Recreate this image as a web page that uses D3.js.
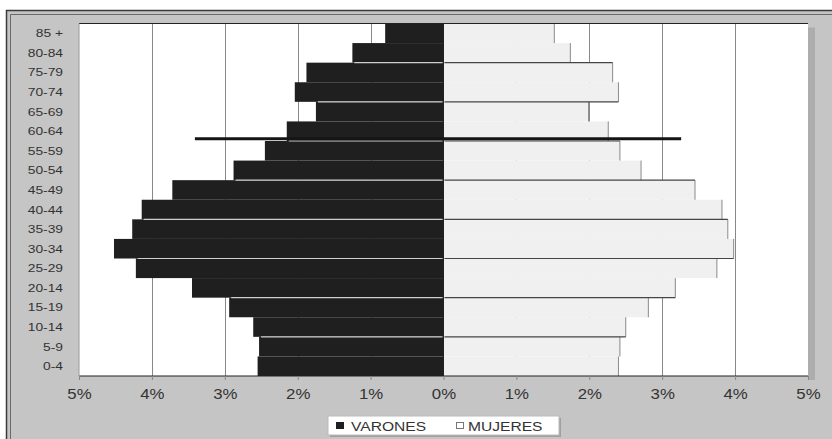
<!DOCTYPE html>
<html><head><meta charset="utf-8">
<script src="https://cdn.jsdelivr.net/npm/d3@7"></script>
<style>body{margin:0;background:#fff}svg{display:block}</style>
</head><body>
<svg id="c" width="832" height="439"></svg>
<script>
const categories = ["0-4","5-9","10-14","15-19","20-14","25-29","30-34","35-39","40-44","45-49","50-54","55-59","60-64","65-69","70-74","75-79","80-84","85 +"];
const varones = [2.55,2.53,2.61,2.94,3.45,4.22,4.52,4.27,4.14,3.72,2.88,2.45,2.15,1.75,2.04,1.88,1.25,0.80];
const mujeres = [2.40,2.42,2.50,2.81,3.18,3.75,3.98,3.90,3.82,3.45,2.71,2.42,2.26,1.99,2.40,2.32,1.74,1.52];
const xTicks = [-5,-4,-3,-2,-1,0,1,2,3,4,5];
const refLine = {category:"60-64", from:-3.41, to:3.26};
const legendLabels = ["VARONES","MUJERES"];

const svg = d3.select("#c");
const font = "'Liberation Sans', Arial, sans-serif";
const L = 79, R = 808, T = 23.5, B = 376;
const x = d3.scaleLinear().domain([-5,5]).range([L,R]);
const y = d3.scaleBand().domain(categories.slice().reverse()).range([T,B]).padding(0);

// frame
svg.append("rect").attr("x",6).attr("y",10).attr("width",826).attr("height",429).attr("fill","#c5c5c5");
svg.append("path").attr("d","M6.5,439 V10.5 H832").attr("fill","none").attr("stroke","#3a3a3a").attr("stroke-width",1.5);
svg.append("path").attr("d","M10.5,439 V14.5 H832").attr("fill","none").attr("stroke","#6a6a6a").attr("stroke-width",1);
// plot shadow
svg.append("rect").attr("x",R).attr("y",T+4).attr("width",7).attr("height",B-T).attr("fill","#adadad");
// plot area
svg.append("rect").attr("x",L).attr("y",T).attr("width",R-L).attr("height",B-T).attr("fill","#fff");

// gridlines
svg.append("g").selectAll("line").data(xTicks.filter(t=>t!==0 && Math.abs(t)!==5)).join("line")
  .attr("x1",d=>Math.round(x(d))+0.5).attr("x2",d=>Math.round(x(d))+0.5)
  .attr("y1",T).attr("y2",B).attr("stroke","#888").attr("stroke-width",1);

const rows = categories.map((c,i)=>({c, m:varones[i], f:mujeres[i], i}));
// bars
svg.append("g").selectAll("rect").data(rows).join("rect")
  .attr("x",d=>x(-d.m)).attr("y",d=>y(d.c)).attr("width",d=>x(0)-x(-d.m)).attr("height",y.bandwidth())
  .attr("fill","#1f1f1f");
svg.append("g").selectAll("rect").data(rows).join("rect")
  .attr("x",x(0)).attr("y",d=>y(d.c)).attr("width",d=>x(d.f)-x(0)).attr("height",y.bandwidth())
  .attr("fill","#f0f0f0");
// female bar end lines
svg.append("g").selectAll("line").data(rows).join("line")
  .attr("x1",d=>x(d.f)).attr("x2",d=>x(d.f)).attr("y1",d=>y(d.c)).attr("y2",d=>y(d.c)+y.bandwidth())
  .attr("stroke","#8a8a8a").attr("stroke-width",1);

// boundary lines between alternate pairs
const bounds = rows.filter(d=>d.i>=2 && d.i%2===0);
svg.append("g").selectAll("line").data(bounds).join("line")
  .attr("x1",d=>x(-Math.min(d.m, varones[d.i-1]))+2).attr("x2",x(0)-1)
  .attr("y1",d=>y(d.c)+y.bandwidth()).attr("y2",d=>y(d.c)+y.bandwidth())
  .attr("stroke","#d0d0d0").attr("stroke-width",1.2);
svg.append("g").selectAll("line").data(bounds).join("line")
  .attr("x1",x(0)+1).attr("x2",d=>x(Math.max(d.f, mujeres[d.i-1])))
  .attr("y1",d=>y(d.c)+y.bandwidth()).attr("y2",d=>y(d.c)+y.bandwidth())
  .attr("stroke","#454545").attr("stroke-width",1.2);
// center divider
svg.append("line").attr("x1",x(0)).attr("x2",x(0)).attr("y1",T).attr("y2",B).attr("stroke","#222").attr("stroke-width",1);

// reference thick line
const ry = y(refLine.category)+y.bandwidth()*0.88;
svg.append("line").attr("x1",x(refLine.from)).attr("x2",x(refLine.to)).attr("y1",ry).attr("y2",ry)
  .attr("stroke","#151515").attr("stroke-width",3);

// plot border
svg.append("line").attr("x1",L).attr("x2",R).attr("y1",T).attr("y2",T).attr("stroke","#222").attr("stroke-width",1.2);
svg.append("line").attr("x1",L).attr("x2",R).attr("y1",B).attr("y2",B).attr("stroke","#222").attr("stroke-width",1.2);
svg.append("line").attr("x1",L).attr("x2",L).attr("y1",T).attr("y2",B).attr("stroke","#9a9a9a").attr("stroke-width",1);

// x axis
const xAxis = svg.append("g").attr("transform",`translate(0,${B})`)
  .call(d3.axisBottom(x).tickValues(xTicks).tickSize(4).tickFormat(d=>Math.abs(d)+"%"));
xAxis.select(".domain").remove();
xAxis.selectAll(".tick line").attr("stroke","#888");
xAxis.selectAll(".tick text").remove();
xAxis.selectAll(".tick").append("text")
  .attr("transform","translate(0,23) scale(1.2,1)")
  .attr("text-anchor","middle").attr("fill","#333")
  .style("font-family",font).style("font-size","14px")
  .text(d=>Math.abs(d)+"%");

// y labels
const yAxis = svg.append("g").attr("transform",`translate(${L},0)`)
  .call(d3.axisLeft(y).tickSize(0).tickFormat(""));
yAxis.select(".domain").remove();
yAxis.selectAll(".tick").append("text")
  .attr("transform","translate(-16,4) scale(1.2,1)")
  .attr("text-anchor","end").attr("fill","#333")
  .style("font-family",font).style("font-size","11.5px")
  .text(d=>d);

// legend
const lg = svg.append("g");
lg.append("rect").attr("x",330).attr("y",418).attr("width",231).attr("height",19).attr("fill","#a0a0a0");
lg.append("rect").attr("x",328).attr("y",416).attr("width",231).attr("height",19).attr("fill","#fff").attr("stroke","#bbb");
lg.append("rect").attr("x",336).attr("y",422).attr("width",8).attr("height",7).attr("fill","#1f1f1f");
lg.append("rect").attr("x",456.5).attr("y",422.5).attr("width",7).attr("height",6).attr("fill","#fff").attr("stroke","#777");
const lx = [351, 468];
legendLabels.forEach((t,i)=>{
  lg.append("text").attr("transform",`translate(${lx[i]},431) scale(1.2,1)`)
    .attr("fill","#333").style("font-family",font).style("font-size","13px").text(t);
});
</script>
</body></html>
